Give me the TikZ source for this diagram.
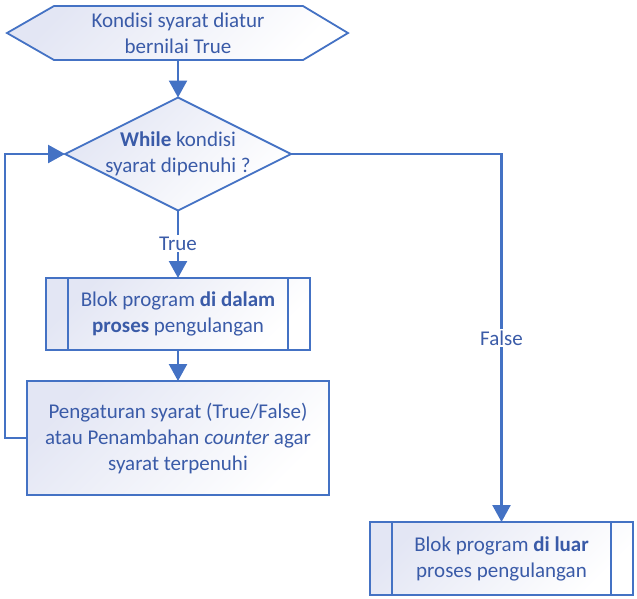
\documentclass[tikz,border=0pt]{standalone}
\usepackage{fontspec}
\setmainfont{Carlito}
\usetikzlibrary{shapes.geometric,arrows.meta}
\definecolor{ln}{HTML}{4472C4}
\definecolor{tx}{HTML}{3A5BA8}
\definecolor{lav}{HTML}{E3E6F4}
\begin{document}
\begin{tikzpicture}[x=1pt,y=-1pt,
  txt/.style={text=tx, font=\fontsize{21}{26}\selectfont, align=center, inner sep=0pt},
  shp/.style={draw=ln, line width=1.8pt, top color=lav, bottom color=white, shading angle=45, outer sep=0pt, inner sep=0pt},
  bar/.style={draw=ln, line width=1.8pt},
  con/.style={draw=ln, line width=2.4pt},
  arr/.style={con, -{Triangle[width=18pt,length=17pt]}},
  lbl/.style={txt, fill=white, inner sep=2pt}]
\useasboundingbox (0,0) rectangle (637,598);
% start hexagon
\path[shp] (7,33) -- (54,6) -- (303,6) -- (348,33) -- (303,60) -- (54,60) -- cycle;
\node[txt] (hex) at (178,33) {Kondisi syarat diatur\\bernilai True};
\coordinate (hexb) at (178,60);
% decision
\node[shp, diamond, aspect=2, minimum width=226pt, minimum height=113pt] (dia) at (178,154) {};
\node[txt] (diat) at (178,154) {\textbf{While} kondisi\\syarat dipenuhi ?};
% box 1
\node[shp, minimum width=264pt, minimum height=72pt] (b1) at (178,314) {};
\draw[bar] ([xshift=22pt]b1.north west) -- ([xshift=22pt]b1.south west);
\draw[bar] ([xshift=-22pt]b1.north east) -- ([xshift=-22pt]b1.south east);
\node[txt] (b1t) at (178,314) {Blok program \textbf{di dalam}\\\textbf{proses} pengulangan};
% box 2
\node[shp, minimum width=302pt, minimum height=114pt] (b2) at (178,438) {};
\node[txt] (b2t) at (178,439) {Pengaturan syarat (True/False)\\atau Penambahan \textit{counter} agar\\syarat terpenuhi};
% box 3
\node[shp, minimum width=263pt, minimum height=73pt] (b3) at (501.5,558.5) {};
\draw[bar] ([xshift=22pt]b3.north west) -- ([xshift=22pt]b3.south west);
\draw[bar] ([xshift=-22pt]b3.north east) -- ([xshift=-22pt]b3.south east);
\node[txt] (b3t) at (501.5,559) {Blok program \textbf{di luar}\\proses pengulangan};
% connectors
\coordinate (lp) at (5,0);
\draw[arr] (hexb) -- (dia.north);
\draw[arr] (dia.south) -- node[lbl, pos=0.49] (ltrue) {True} (b1.north);
\draw[arr] (b1.south) -- (b2.north);
\draw[arr] (b2.west) -- (b2.west -| lp) -- (dia.west -| lp) -- (dia.west);
\draw[arr] (dia.east) -- (dia.east -| b3.north) -- node[lbl, midway] (lfalse) {False} (b3.north);
\end{tikzpicture}
\end{document}
